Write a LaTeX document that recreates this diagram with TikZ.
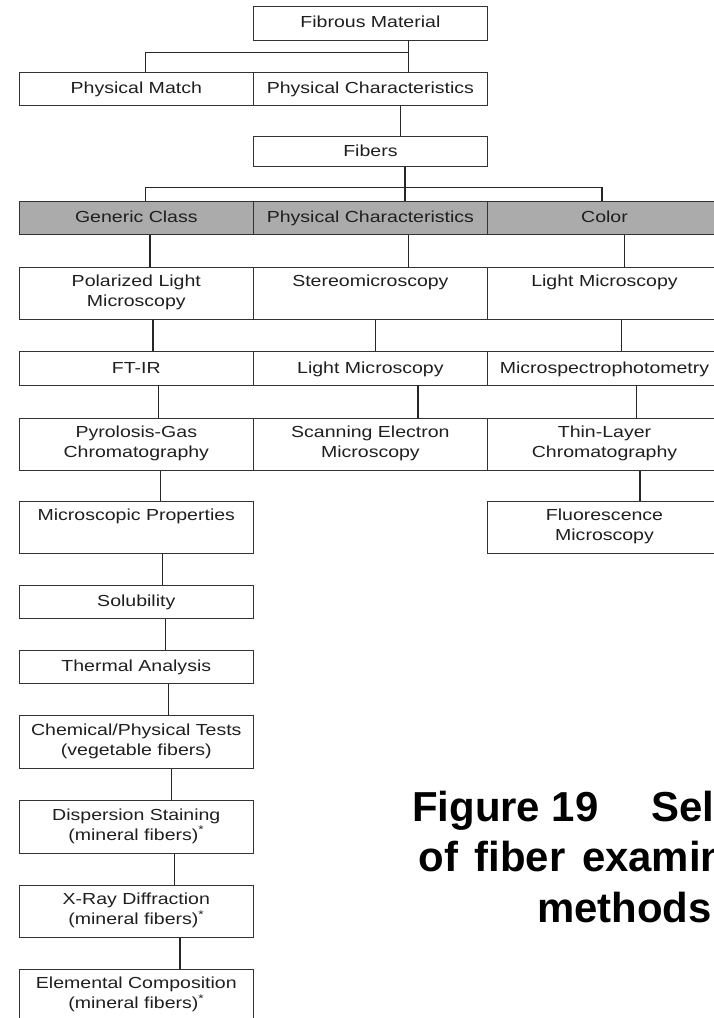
\documentclass[tikz,border=0pt]{standalone}
\usepackage{fontspec}
\setmainfont{Liberation Sans}
\newfontfamily\boxfont[FakeStretch=1.22]{Liberation Sans}
\newfontfamily\capfont{Liberation Sans}
\newcommand\bxstrut{\rule[-5pt]{0pt}{19.5pt}}
\begin{document}
\begin{tikzpicture}[x=1pt,y=-1pt,
  box/.style={draw=black!80, line width=0.9pt, minimum width=234.2pt, inner sep=0pt,
    align=center, font=\boxfont\fontsize{16}{20}\selectfont, text=black!88,
    execute at begin node=\bxstrut},
  graybox/.style={box, fill=black!33},
  conn/.style={draw=black!85, line width=1.25pt},
  captext/.style={font=\capfont\bfseries\fontsize{41.9}{50}\selectfont, inner sep=0pt, anchor=base west, text=black}]
\useasboundingbox (0,0) rectangle (714,1018);
\fill[white] (0,0) rectangle (714,1018);
\begin{scope}
\clip (0,0) rectangle (714,1018);
% top
\node[box, minimum height=34pt] (fm) at (370.4,23) {Fibrous Material};
\node[box, minimum height=33.2pt] (pm) at (136.3,88.9) {Physical Match};
\node[box, minimum height=33.2pt] (pc) at (370.4,88.9) {Physical Characteristics};
\node[box, minimum height=30pt] (fib) at (370.4,151.75) {Fibers};
% gray row
\node[graybox, minimum height=33.5pt] (ggc) at (136.3,217.75) {Generic Class};
\node[graybox, minimum height=33.5pt] (gpc) at (370.4,217.75) {Physical Characteristics};
\node[graybox, minimum height=33.5pt] (gcol) at (604.5,217.75) {Color};
% row 1
\node[box, minimum height=52.5pt] (plm) at (136.3,293.25) {Polarized Light\\Microscopy};
\node[box, minimum height=52.5pt] (stereo) at (370.4,293.25) {Stereomicroscopy\\\strut};
\node[box, minimum height=52.5pt] (lm1) at (604.5,293.25) {Light Microscopy\\\strut};
% row 2
\node[box, minimum height=33.3pt] (ftir) at (136.3,368.3) {FT-IR};
\node[box, minimum height=33.3pt] (lm2) at (370.4,368.3) {Light Microscopy};
\node[box, minimum height=33.3pt] (msp) at (604.5,368.3) {Microspectrophotometry};
% row 3
\node[box, minimum height=51.7pt] (pgc) at (136.3,444.2) {Pyrolosis-Gas\\Chromatography};
\node[box, minimum height=51.7pt] (sem) at (370.4,444.2) {Scanning Electron\\Microscopy};
\node[box, minimum height=51.7pt] (tlc) at (604.5,444.2) {Thin-Layer\\Chromatography};
% row 4
\node[box, minimum height=51.3pt] (mp) at (136.3,527.4) {Microscopic Properties\\\strut};
\node[box, minimum height=51.3pt] (fm2) at (604.5,527.4) {Fluorescence\\Microscopy};
% left chain
\node[box, minimum height=33.3pt] (sol) at (136.3,601.7) {Solubility};
\node[box, minimum height=33.3pt] (ta) at (136.3,666.7) {Thermal Analysis};
\node[box, minimum height=53.3pt] (chem) at (136.3,741.7) {Chemical/Physical Tests\\(vegetable fibers)};
\node[box, minimum height=53.3pt] (disp) at (136.3,826.7) {Dispersion Staining\\(mineral fibers)\textsuperscript{*}};
\node[box, minimum height=52.5pt] (xrd) at (136.3,911.2) {X-Ray Diffraction\\(mineral fibers)\textsuperscript{*}};
\node[box, minimum height=52.5pt] (elem) at (136.3,995.6) {Elemental Composition\\(mineral fibers)\textsuperscript{*}};
% connectors top
\draw[conn] ([xshift=38.1pt]fm.south) -- ([xshift=38.1pt]pc.north);
\draw[conn] ([xshift=9.4pt]pm.north) -- ++(0,-19) -| ([xshift=38.1pt]fm.south);
\draw[conn] ([xshift=30.3pt]pc.south) -- ([xshift=30.3pt]fib.north);
\draw[conn] ([xshift=34.6pt]fib.south) -- ([xshift=34.6pt]gpc.north);
\draw[conn] ([xshift=9.4pt]ggc.north) -- ++(0,-13.3) -| ([xshift=-2.5pt]gcol.north);
% gray -> row1
\draw[conn] ([xshift=13.7pt]ggc.south) -- ([xshift=13.7pt]plm.north);
\draw[conn] ([xshift=38.1pt]gpc.south) -- ([xshift=38.1pt]stereo.north);
\draw[conn] ([xshift=20.3pt]gcol.south) -- ([xshift=20.3pt]lm1.north);
% row1 -> row2
\draw[conn] ([xshift=16.7pt]plm.south) -- ([xshift=16.7pt]ftir.north);
\draw[conn] ([xshift=5.3pt]stereo.south) -- ([xshift=5.3pt]lm2.north);
\draw[conn] ([xshift=17.1pt]lm1.south) -- ([xshift=17.1pt]msp.north);
% row2 -> row3
\draw[conn] ([xshift=22.2pt]ftir.south) -- ([xshift=22.2pt]pgc.north);
\draw[conn] ([xshift=47.6pt]lm2.south) -- ([xshift=47.6pt]sem.north);
\draw[conn] ([xshift=32.1pt]msp.south) -- ([xshift=32.1pt]tlc.north);
% row3 -> row4
\draw[conn] ([xshift=24.5pt]pgc.south) -- ([xshift=24.5pt]mp.north);
\draw[conn] ([xshift=35.5pt]tlc.south) -- ([xshift=35.5pt]fm2.north);
% left chain
\draw[conn] ([xshift=26.3pt]mp.south) -- ([xshift=26.3pt]sol.north);
\draw[conn] ([xshift=29pt]sol.south) -- ([xshift=29pt]ta.north);
\draw[conn] ([xshift=32.2pt]ta.south) -- ([xshift=32.2pt]chem.north);
\draw[conn] ([xshift=34.9pt]chem.south) -- ([xshift=34.9pt]disp.north);
\draw[conn] ([xshift=38.1pt]disp.south) -- ([xshift=38.1pt]xrd.north);
\draw[conn] ([xshift=43.6pt]xrd.south) -- ([xshift=43.6pt]elem.north);
% caption
\node[captext] (cap1) at (412,821.5) {Figure 19\hspace{53pt}Selection};
\node[captext] (cap2) at (418.3,871.5) {of\hspace{16.6pt}fiber\hspace{16.6pt}examination};
\node[captext] (cap3) at (536.8,922) {methods};
\end{scope}
\end{tikzpicture}
\end{document}
